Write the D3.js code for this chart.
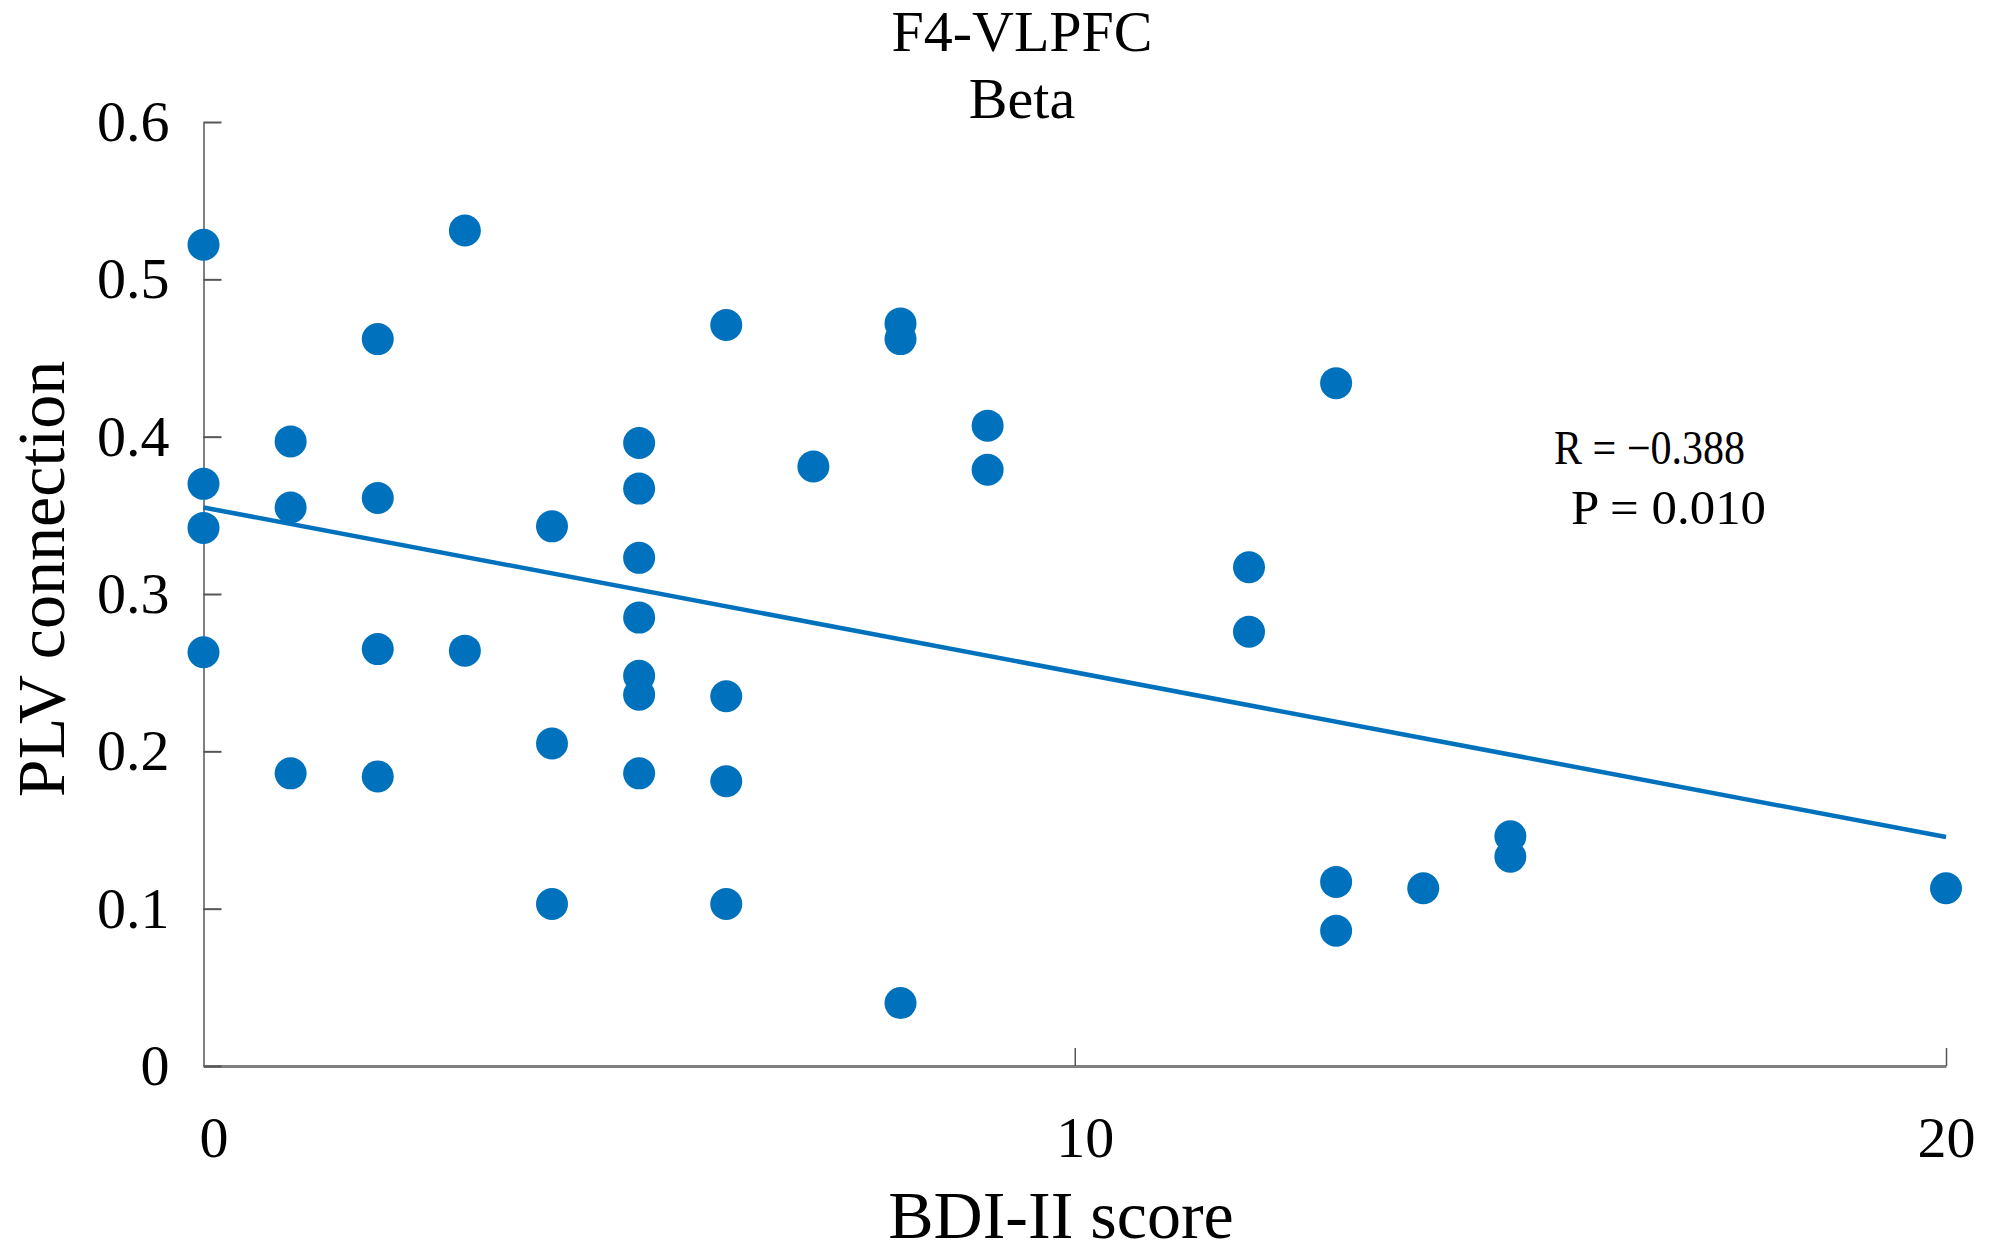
<!DOCTYPE html>
<html>
<head>
<meta charset="utf-8">
<script src="https://cdn.jsdelivr.net/npm/d3@7"></script>
<style>
  body { margin: 0; background: #fff; }
  text { font-family: "Liberation Serif", "Times New Roman", serif; fill: #000; }
</style>
</head>
<body>
<div id="chart"></div>
<script>
// BDI-II score (x) and PLV connection (y) for each subject
const bdiScore = [0, 0, 0, 0, 1, 1, 1, 2, 2, 2, 2, 3, 3, 4, 4, 4,
  5, 5, 5, 5, 5, 5, 5, 6, 6, 6, 6, 7, 8, 8, 8, 9, 9,
  12, 12, 13, 13, 13, 14, 15, 15, 20];
const plvValue = [0.522, 0.370, 0.342, 0.263, 0.397, 0.355, 0.186, 0.462, 0.361, 0.265, 0.184, 0.531, 0.264, 0.343, 0.205, 0.103,
  0.396, 0.367, 0.323, 0.285, 0.248, 0.236, 0.186, 0.471, 0.235, 0.181, 0.103, 0.381, 0.472, 0.462, 0.040, 0.407, 0.379,
  0.317, 0.276, 0.434, 0.117, 0.086, 0.113, 0.146, 0.133, 0.113];

// fitted regression line end points
const fitX = [0, 20];
const fitY = [0.355, 0.1455];

const xTicks = [0, 10, 20];
const yTicks = [0, 0.1, 0.2, 0.3, 0.4, 0.5, 0.6];
const titleLines = ["F4-VLPFC", "Beta"];
const statLines = ["R = \u22120.388", "P = 0.010"];

const width = 1994, height = 1259;
const margin = {top: 122, right: 48, bottom: 193, left: 203.5};
const blue = "#0072BD";

const svg = d3.select("#chart")
  .append("svg")
    .attr("width", width)
    .attr("height", height);

const x = d3.scaleLinear()
  .domain([0, 20])
  .range([margin.left, width - margin.right]);

const y = d3.scaleLinear()
  .domain([0, 0.6])
  .range([height - margin.bottom, margin.top]);

// x axis, ticks pointing inward
const xAxis = svg.append("g")
  .attr("transform", `translate(0,${y(0)})`)
  .call(d3.axisBottom(x).tickValues(xTicks).tickSizeInner(-18).tickSizeOuter(0).tickPadding(50).tickFormat(d3.format("d")));
xAxis.select(".domain").attr("stroke", "#808080").attr("stroke-width", 3);
xAxis.selectAll(".tick line").attr("stroke", "#555").attr("stroke-width", 1.5);
xAxis.selectAll(".tick text").attr("font-size", 58).attr("fill", "#000")
  .attr("dx", d => d === 20 ? 0 : 10);

// y axis
const yAxis = svg.append("g")
  .attr("transform", `translate(${x(0)},0)`)
  .call(d3.axisLeft(y).tickValues(yTicks).tickSizeInner(-18).tickSizeOuter(0).tickPadding(34)
    .tickFormat(d => d === 0 ? "0" : d3.format(".1f")(d)));
yAxis.select(".domain").attr("stroke", "#808080").attr("stroke-width", 2);
yAxis.selectAll(".tick line").attr("stroke", "#555").attr("stroke-width", 2);
yAxis.selectAll(".tick text").attr("font-size", 58).attr("fill", "#000");

// regression line
svg.append("path")
  .datum(fitX.map((d, i) => ({x: d, y: fitY[i]})))
  .attr("fill", "none")
  .attr("stroke", blue)
  .attr("stroke-width", 4.5)
  .attr("d", d3.line().x(d => x(d.x)).y(d => y(d.y)));

// points
svg.append("g")
  .selectAll("circle")
  .data(bdiScore.map((d, i) => ({x: d, y: plvValue[i]})))
  .enter().append("circle")
    .attr("cx", d => x(d.x))
    .attr("cy", d => y(d.y))
    .attr("r", 16)
    .attr("fill", blue);

// title
svg.append("g").selectAll("text")
  .data(titleLines)
  .enter().append("text")
    .attr("x", 1022)
    .attr("y", (d, i) => 51 + i * 67)
    .attr("text-anchor", "middle")
    .attr("font-size", 58)
    .text(d => d);

// statistics
svg.append("g").selectAll("text")
  .data(statLines)
  .enter().append("text")
    .attr("x", (d, i) => i === 0 ? 1554 : 1571)
    .attr("y", (d, i) => 464 + i * 60)
    .attr("font-size", 48)
    .attr("textLength", (d, i) => i === 0 ? 191 : 195)
    .attr("lengthAdjust", "spacingAndGlyphs")
    .text(d => d);

// axis labels
svg.append("text")
  .attr("x", 1061)
  .attr("y", 1238)
  .attr("text-anchor", "middle")
  .attr("font-size", 68)
  .text("BDI-II score");

svg.append("text")
  .attr("transform", "translate(64,579) rotate(-90)")
  .attr("text-anchor", "middle")
  .attr("font-size", 68)
  .text("PLV connection");
</script>
</body>
</html>
